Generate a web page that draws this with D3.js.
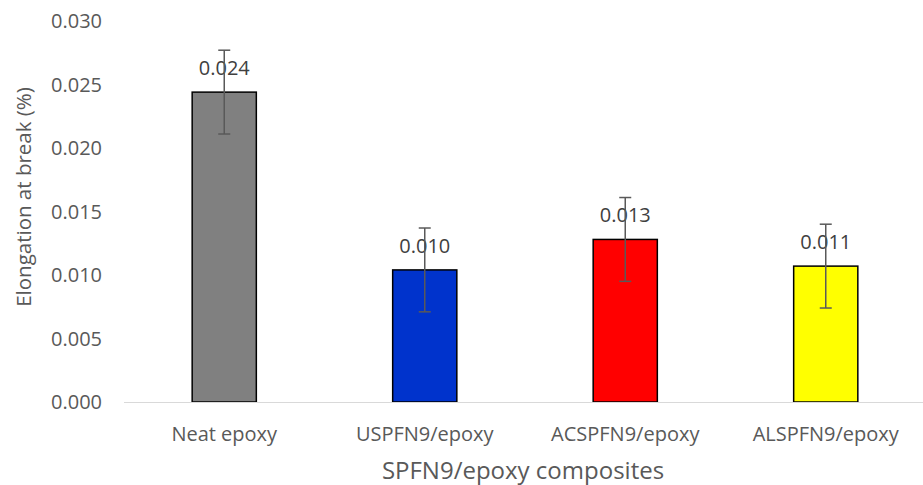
<!DOCTYPE html>
<html>
<head>
<meta charset="utf-8">
<script src="https://cdn.jsdelivr.net/npm/d3@7"></script>
<style>
  html, body { margin: 0; padding: 0; background: #fff; }
  svg { display: block; }
  text { font-family: "Open Sans", sans-serif; fill: #595959; }
</style>
</head>
<body>
<svg id="chart" width="923" height="485"></svg>
<script>
const categories = ["Neat epoxy", "USPFN9/epoxy", "ACSPFN9/epoxy", "ALSPFN9/epoxy"];
const values = [0.0244, 0.0104, 0.0128, 0.0107];
const errors = [0.0033, 0.0033, 0.0033, 0.0033];
const labels = ["0.024", "0.010", "0.013", "0.011"];
const colors = ["#808080", "#0033CC", "#FF0000", "#FFFF00"];
const yTicks = [0, 0.005, 0.010, 0.015, 0.020, 0.025, 0.030];
const xTitle = "SPFN9/epoxy composites";
const yTitle = "Elongation at break (%)";

const svg = d3.select("#chart");
const plotLeft = 124, plotRight = 926, plotTop = 21, plotBottom = 402;

const x = d3.scaleBand().domain(categories).range([plotLeft, plotRight]).paddingInner(0.68).paddingOuter(0.34);
const y = d3.scaleLinear().domain([0, 0.03]).range([plotBottom, plotTop]);

// y tick labels
svg.append("g").selectAll("text").data(yTicks).join("text")
  .attr("x", 102).attr("y", d => y(d)).attr("dy", "0.35em")
  .attr("text-anchor", "end").attr("font-size", 20)
  .text(d => d3.format(".3f")(d));

// bars
const data = categories.map((c, i) => ({c, v: values[i], e: errors[i], l: labels[i], col: colors[i]}));
svg.append("g").selectAll("rect").data(data).join("rect")
  .attr("x", d => x(d.c)).attr("width", x.bandwidth())
  .attr("y", d => y(d.v)).attr("height", d => y(0) - y(d.v))
  .attr("fill", d => d.col).attr("stroke", "#000").attr("stroke-width", 1.5);

// x axis line
svg.append("line").attr("x1", plotLeft).attr("x2", 923).attr("y1", y(0) + 0.5).attr("y2", y(0) + 0.5)
  .attr("stroke", "#d9d9d9").attr("stroke-width", 1.2);

// data labels
svg.append("g").selectAll("text").data(data).join("text")
  .attr("x", d => x(d.c) + x.bandwidth() / 2).attr("y", d => y(d.v) - 17)
  .attr("text-anchor", "middle").attr("font-size", 20)
  .style("fill", "#404040")
  .text(d => d.l);

// error bars
const eg = svg.append("g").attr("stroke", "#595959").attr("stroke-width", 1.5);
data.forEach(d => {
  const cx = x(d.c) + x.bandwidth() / 2;
  eg.append("line").attr("x1", cx).attr("x2", cx).attr("y1", y(d.v + d.e)).attr("y2", y(d.v - d.e));
  eg.append("line").attr("x1", cx - 6).attr("x2", cx + 6).attr("y1", y(d.v + d.e)).attr("y2", y(d.v + d.e));
  eg.append("line").attr("x1", cx - 6).attr("x2", cx + 6).attr("y1", y(d.v - d.e)).attr("y2", y(d.v - d.e));
});

// category labels
svg.append("g").selectAll("text").data(categories).join("text")
  .attr("x", d => x(d) + x.bandwidth() / 2).attr("y", 441)
  .attr("text-anchor", "middle").attr("font-size", 20)
  .text(d => d);

// axis titles
svg.append("text").attr("x", 523).attr("y", 479).attr("text-anchor", "middle")
  .attr("font-size", 24).text(xTitle);
svg.append("text").attr("transform", "translate(31,197) rotate(-90)")
  .attr("text-anchor", "middle").attr("font-size", 20.5).text(yTitle);
</script>
</body>
</html>
